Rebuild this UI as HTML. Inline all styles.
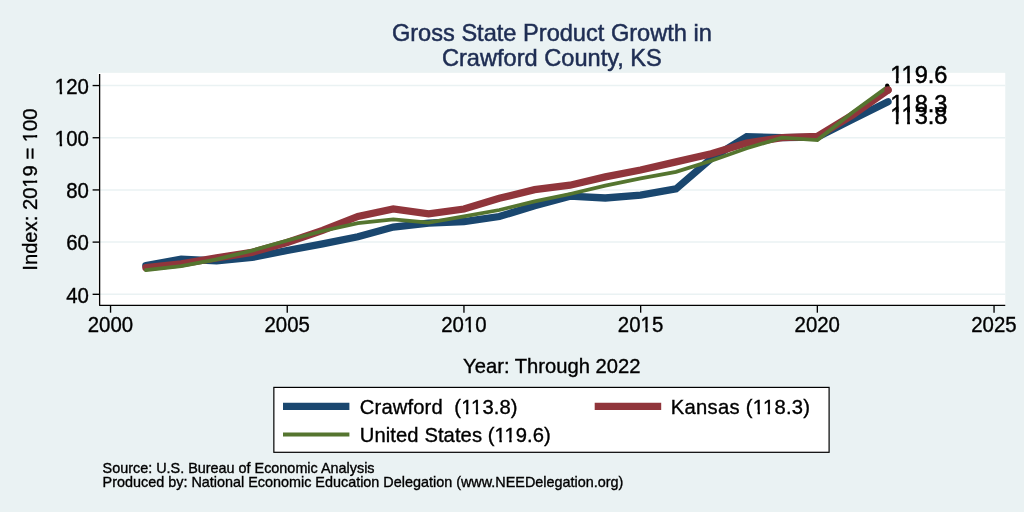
<!DOCTYPE html>
<html><head><meta charset="utf-8"><title>Gross State Product Growth in Crawford County, KS</title>
<style>
html,body{margin:0;padding:0;background:#eaf2f3;}
body{width:1024px;height:512px;overflow:hidden;font-family:"Liberation Sans",sans-serif;}
svg{display:block;will-change:transform;}
text{stroke:#000;stroke-width:0.35px;}
text.tt{stroke:#1e2d53;stroke-width:0.5px;}
text.ml{stroke-width:0.5px;}
</style></head><body>
<svg width="1024" height="512" viewBox="0 0 1024 512" font-family="'Liberation Sans', sans-serif">
<defs><clipPath id="k21"><rect x="-38.04" y="-22.58" width="42.04" height="18.50"/><rect x="-38.04" y="-4.08" width="4.58" height="11.99"/><rect x="-29.20" y="-4.08" width="2.39" height="11.99"/><rect x="-22.71" y="-4.08" width="26.71" height="11.99"/></clipPath><clipPath id="k23"><rect x="-38.04" y="-22.58" width="42.04" height="18.50"/><rect x="-38.04" y="-4.08" width="4.58" height="11.99"/><rect x="-29.20" y="-4.08" width="2.39" height="11.99"/><rect x="-22.71" y="-4.08" width="26.71" height="11.99"/></clipPath><clipPath id="k29"><rect x="-26.69" y="-22.58" width="53.37" height="18.50"/><rect x="-26.69" y="-4.08" width="27.25" height="11.99"/><rect x="4.82" y="-4.08" width="2.39" height="11.99"/><rect x="11.31" y="-4.08" width="15.38" height="11.99"/></clipPath><clipPath id="k31"><rect x="-26.69" y="-22.58" width="53.37" height="18.50"/><rect x="-26.69" y="-4.08" width="27.25" height="11.99"/><rect x="4.82" y="-4.08" width="2.39" height="11.99"/><rect x="11.31" y="-4.08" width="15.38" height="11.99"/></clipPath><clipPath id="k36"><rect x="886.20" y="57.80" width="65.30" height="20.28"/><rect x="886.20" y="78.08" width="4.75" height="13.72"/><rect x="895.76" y="78.08" width="2.83" height="13.72"/><rect x="907.12" y="78.08" width="2.83" height="13.72"/><rect x="914.58" y="78.08" width="36.91" height="13.72"/></clipPath><clipPath id="k37"><rect x="886.20" y="86.70" width="65.30" height="20.28"/><rect x="886.20" y="106.98" width="4.75" height="13.72"/><rect x="895.76" y="106.98" width="2.83" height="13.72"/><rect x="907.12" y="106.98" width="2.83" height="13.72"/><rect x="914.58" y="106.98" width="36.91" height="13.72"/></clipPath><clipPath id="k38"><rect x="886.20" y="98.50" width="65.30" height="20.28"/><rect x="886.20" y="118.78" width="4.75" height="13.72"/><rect x="895.76" y="118.78" width="2.83" height="13.72"/><rect x="907.12" y="118.78" width="2.83" height="13.72"/><rect x="914.58" y="118.78" width="36.91" height="13.72"/></clipPath><clipPath id="k42"><rect x="-85.10" y="-22.00" width="170.20" height="17.96"/><rect x="-85.10" y="-4.04" width="87.61" height="12.04"/><rect x="6.73" y="-4.04" width="2.38" height="12.04"/><rect x="13.17" y="-4.04" width="34.81" height="12.04"/><rect x="52.20" y="-4.04" width="2.38" height="12.04"/><rect x="58.64" y="-4.04" width="26.46" height="12.04"/></clipPath><clipPath id="k47"><rect x="355.80" y="391.90" width="165.80" height="17.96"/><rect x="355.80" y="409.86" width="105.93" height="12.04"/><rect x="465.95" y="409.86" width="2.38" height="12.04"/><rect x="475.81" y="409.86" width="2.38" height="12.04"/><rect x="482.25" y="409.86" width="39.35" height="12.04"/></clipPath><clipPath id="k48"><rect x="355.80" y="420.20" width="199.00" height="17.96"/><rect x="355.80" y="438.16" width="139.38" height="12.04"/><rect x="499.40" y="438.16" width="2.38" height="12.04"/><rect x="509.22" y="438.16" width="2.38" height="12.04"/><rect x="515.65" y="438.16" width="39.15" height="12.04"/></clipPath><clipPath id="k49"><rect x="666.80" y="391.90" width="147.30" height="17.96"/><rect x="666.80" y="409.86" width="86.61" height="12.04"/><rect x="757.64" y="409.86" width="2.38" height="12.04"/><rect x="767.66" y="409.86" width="2.38" height="12.04"/><rect x="774.10" y="409.86" width="40.00" height="12.04"/></clipPath></defs>
<rect x="0" y="0" width="1024" height="512" fill="#eaf2f3"/>
<rect x="97.7" y="72.85" width="907.55" height="232.4" fill="#ffffff"/>
<line x1="98.8" x2="1005.25" y1="294.30" y2="294.30" stroke="#eaf2f3" stroke-width="1.5"/>
<line x1="98.8" x2="1005.25" y1="242.11" y2="242.11" stroke="#eaf2f3" stroke-width="1.5"/>
<line x1="98.8" x2="1005.25" y1="189.93" y2="189.93" stroke="#eaf2f3" stroke-width="1.5"/>
<line x1="98.8" x2="1005.25" y1="137.74" y2="137.74" stroke="#eaf2f3" stroke-width="1.5"/>
<line x1="98.8" x2="1005.25" y1="85.55" y2="85.55" stroke="#eaf2f3" stroke-width="1.5"/>
<polyline points="145.9,265.6 181.2,259.1 216.6,260.8 251.9,257.5 287.2,250.5 322.6,243.8 357.9,236.8 393.3,227.1 428.6,223.1 464.0,221.5 499.3,216.5 534.6,205.7 570.0,196.2 605.3,198.0 640.6,195.1 676.0,188.9 711.3,158.4 746.7,136.6 782.0,137.7 817.4,137.2 852.7,119.3 888.0,101.7" fill="none" stroke="#1a476f" stroke-width="7.3" stroke-linejoin="miter" stroke-miterlimit="10" stroke-linecap="round"/>
<polyline points="145.9,267.7 181.2,263.8 216.6,257.9 251.9,252.4 287.2,242.4 322.6,230.4 357.9,216.4 393.3,209.0 428.6,213.8 464.0,209.0 499.3,198.3 534.6,189.7 570.0,185.2 605.3,176.9 640.6,170.0 676.0,161.9 711.3,153.7 746.7,143.0 782.0,137.7 817.4,136.3 852.7,114.9 888.0,90.0" fill="none" stroke="#90353b" stroke-width="7.3" stroke-linejoin="miter" stroke-miterlimit="10" stroke-linecap="round"/>
<polyline points="145.9,270.2 181.2,266.1 216.6,259.3 251.9,250.6 287.2,240.5 322.6,231.0 357.9,223.1 393.3,219.4 428.6,222.7 464.0,216.4 499.3,210.0 534.6,201.4 570.0,194.0 605.3,185.6 640.6,178.3 676.0,171.9 711.3,160.7 746.7,148.2 782.0,137.7 817.4,140.1 852.7,112.3 888.0,86.6" fill="none" stroke="#55752f" stroke-width="3.8" stroke-linejoin="miter" stroke-miterlimit="10" stroke-linecap="round"/>
<circle cx="887.15" cy="85.55" r="2.05" fill="#000"/>
<circle cx="888.03" cy="89.99" r="3.65" fill="#90353b"/>
<polyline points="99.6,74.1 99.6,305.3 1005.25,305.3" fill="none" stroke="#000" stroke-width="1.35" stroke-linejoin="round"/>
<line x1="92.6" x2="99.6" y1="294.30" y2="294.30" stroke="#000" stroke-width="1.35"/>
<text transform="translate(88.9,302.55) scale(1,1.045)" font-size="20.4" text-anchor="end" fill="#000">40</text>
<line x1="92.6" x2="99.6" y1="242.11" y2="242.11" stroke="#000" stroke-width="1.35"/>
<text transform="translate(88.9,250.36) scale(1,1.045)" font-size="20.4" text-anchor="end" fill="#000">60</text>
<line x1="92.6" x2="99.6" y1="189.93" y2="189.93" stroke="#000" stroke-width="1.35"/>
<text transform="translate(88.9,198.18) scale(1,1.045)" font-size="20.4" text-anchor="end" fill="#000">80</text>
<line x1="92.6" x2="99.6" y1="137.74" y2="137.74" stroke="#000" stroke-width="1.35"/>
<text clip-path="url(#k21)" transform="translate(88.9,145.99) scale(1,1.045)" font-size="20.4" text-anchor="end" fill="#000">100</text>
<line x1="92.6" x2="99.6" y1="85.55" y2="85.55" stroke="#000" stroke-width="1.35"/>
<text clip-path="url(#k23)" transform="translate(88.9,93.80) scale(1,1.045)" font-size="20.4" text-anchor="end" fill="#000">120</text>
<line x1="110.55" x2="110.55" y1="305.3" y2="312.7" stroke="#000" stroke-width="1.35"/>
<text transform="translate(110.45,332.0) scale(1,1.045)" font-size="20.4" text-anchor="middle" fill="#000">2000</text>
<line x1="287.25" x2="287.25" y1="305.3" y2="312.7" stroke="#000" stroke-width="1.35"/>
<text transform="translate(287.15,332.0) scale(1,1.045)" font-size="20.4" text-anchor="middle" fill="#000">2005</text>
<line x1="463.95" x2="463.95" y1="305.3" y2="312.7" stroke="#000" stroke-width="1.35"/>
<text clip-path="url(#k29)" transform="translate(463.85,332.0) scale(1,1.045)" font-size="20.4" text-anchor="middle" fill="#000">2010</text>
<line x1="640.65" x2="640.65" y1="305.3" y2="312.7" stroke="#000" stroke-width="1.35"/>
<text clip-path="url(#k31)" transform="translate(640.55,332.0) scale(1,1.045)" font-size="20.4" text-anchor="middle" fill="#000">2015</text>
<line x1="817.35" x2="817.35" y1="305.3" y2="312.7" stroke="#000" stroke-width="1.35"/>
<text transform="translate(817.25,332.0) scale(1,1.045)" font-size="20.4" text-anchor="middle" fill="#000">2020</text>
<line x1="994.05" x2="994.05" y1="305.3" y2="312.7" stroke="#000" stroke-width="1.35"/>
<text transform="translate(993.95,332.0) scale(1,1.045)" font-size="20.4" text-anchor="middle" fill="#000">2025</text>
<text clip-path="url(#k36)" x="890.2" y="82.8" font-size="23.6" fill="#000" class="ml">119.6</text>
<text clip-path="url(#k37)" x="890.2" y="111.7" font-size="23.6" fill="#000" class="ml">118.3</text>
<text clip-path="url(#k38)" x="890.2" y="123.5" font-size="23.6" fill="#000" class="ml">113.8</text>
<text x="551.9" y="40.8" font-size="23.6" text-anchor="middle" fill="#1e2d53" class="tt">Gross State Product Growth in</text>
<text x="551.9" y="65.8" font-size="23.6" text-anchor="middle" fill="#1e2d53" class="tt">Crawford County, KS</text>
<text x="551.8" y="372.8" font-size="20.2" text-anchor="middle" fill="#000">Year: Through 2022</text>
<text clip-path="url(#k42)" transform="translate(37.3,189.6) rotate(-90)" font-size="20.2" text-anchor="middle" fill="#000">Index: 2019 = 100</text>
<rect x="273.85" y="387.4" width="555.25" height="64.9" fill="#ffffff" stroke="#000" stroke-width="1.2"/>
<line x1="283" x2="349.4" y1="406.35" y2="406.35" stroke="#1a476f" stroke-width="7.3"/>
<line x1="283" x2="349.4" y1="434.5" y2="434.5" stroke="#55752f" stroke-width="3.8"/>
<line x1="594.7" x2="661.2" y1="406.35" y2="406.35" stroke="#90353b" stroke-width="7.3"/>
<text clip-path="url(#k47)" x="359.8" y="413.9" font-size="20.2" fill="#000" xml:space="preserve" textLength="157.8" lengthAdjust="spacing">Crawford  (113.8)</text>
<text clip-path="url(#k48)" x="359.8" y="442.2" font-size="20.2" fill="#000" textLength="191.0" lengthAdjust="spacing">United States (119.6)</text>
<text clip-path="url(#k49)" x="670.8" y="413.9" font-size="20.2" fill="#000" textLength="139.3" lengthAdjust="spacing">Kansas (118.3)</text>
<text x="102.6" y="473.1" font-size="14.4" fill="#000">Source: U.S. Bureau of Economic Analysis</text>
<text x="102.6" y="487.3" font-size="14.4" fill="#000">Produced by: National Economic Education Delegation (www.NEEDelegation.org)</text>
</svg>
</body></html>
